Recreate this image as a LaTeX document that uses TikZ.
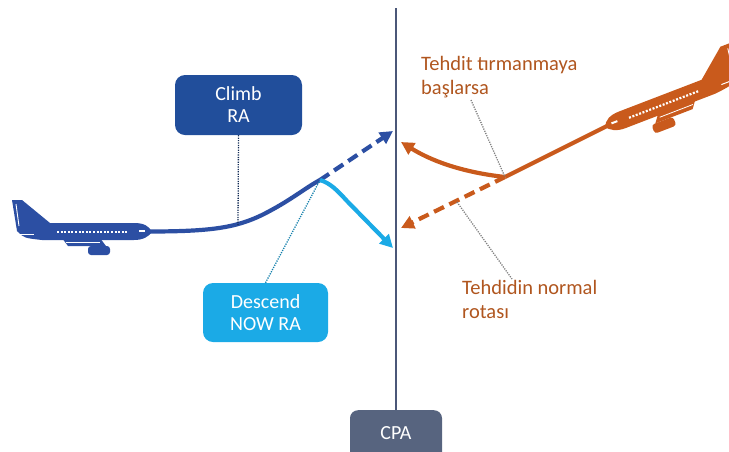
\documentclass[tikz,border=0pt]{standalone}
\usepackage{fontspec}
\setmainfont{Carlito}
\usetikzlibrary{arrows.meta}

\definecolor{jetblue}{HTML}{2C4FA3}
\definecolor{climbblue}{HTML}{214E9B}
\definecolor{skyblue}{HTML}{1BAAE6}
\definecolor{threat}{HTML}{C95A1C}
\definecolor{threattext}{HTML}{B0561F}
\definecolor{cpaline}{HTML}{4B5778}
\definecolor{cpabox}{HTML}{57647F}

\tikzset{
  rabox/.style={rounded corners=10pt, fill=#1, text=white, align=center,
    font=\fontsize{20}{22}\selectfont, inner sep=0pt},
  flight/.style={line width=4.2pt},
  tip/.style={-{Triangle[length=13pt,width=13pt]}},
  dashes/.style={dash pattern=on 11pt off 6pt},
  leader/.style={line width=1.3pt, dash pattern=on 1.2pt off 1.2pt},
  note/.style={text=threattext, align=left, anchor=north west, inner sep=0pt,
    font=\fontsize{20.5}{23.6}\selectfont},
  % airliner silhouette, nose at the origin, pointing to +x
  pics/jet/.style={code={
    \fill[#1] (0,0) .. controls (-3,-6) and (-8,-9) .. (-18,-9) -- (-102,-9)
      -- (-130,-32) -- (-140,-32) -- (-135,-1) .. controls (-128,6) .. (-110,8)
      -- (-18,8) .. controls (-8,8) and (-3,4) .. (0,0) -- cycle;
    \fill[#1] (-90,6) -- (-52,6) -- (-46,14) -- (-84,14) -- cycle;
    \draw[white, line width=0.8pt] (-86,10) -- (-52,10);
    \fill[#1, rounded corners=3pt] (-64,14) rectangle (-42,23);
    \draw[white, line width=2.2pt, dash pattern=on 2pt off 1.6pt] (-95,0) -- (-24,0);
    \draw[white, line width=2pt] (-13,-1) -- (-7,-1);
    \draw[white, line width=1pt] (-136,2) -- (-118,2);
    \draw[white, line width=0.9pt] (-136,-28) -- (-133,-6);
  }}
}

\begin{document}
\begin{tikzpicture}[x=1pt,y=-1pt]
  \clip (0,0) rectangle (729,451);

  % closest point of approach
  \node[rabox=cpabox, anchor=north, minimum width=92pt, minimum height=72pt,
        rounded corners=8pt, text height=13pt, text depth=27pt] (cpa) at (396,410) {CPA};
  \coordinate (cpatop) at (396,8);
  \draw[cpaline, line width=2pt] (cpatop) -- (cpa.north);

  % own aircraft
  \pic at (152,232) {jet=jetblue};
  \coordinate (bnose) at (148,231.5);
  \coordinate (bsplit) at (320,180);
  \coordinate (climbtip) at (393,131);
  \coordinate (desctip) at (393,248);
  \coordinate (cfoot) at (238,225);
  \draw[flight, jetblue] (bnose) .. controls (210,231.5) and (235,228) .. (262,215)
    .. controls (290,201) and (305,188) .. (bsplit);
  \draw[flight, jetblue, dashes, tip] (bsplit) -- (climbtip);
  \draw[flight, skyblue, tip] (bsplit) .. controls (330,183) and (337,190) .. (347,201) -- (desctip);

  % resolution advisories
  \node[rabox=climbblue, minimum width=127pt, minimum height=60pt] (climb) at (238.5,105) {Climb\\RA};
  \node[rabox=skyblue, minimum width=125pt, minimum height=59pt] (desc) at (265.5,312.5) {Descend\\NOW RA};
  \draw[leader, climbblue!55!black] (climb.south) -- (cfoot);
  \draw[leader, skyblue!75!black, shorten >=2pt] (desc.north) -- (bsplit);

  % intruder
  \pic[rotate=21, xscale=-1, scale=1.05] at (605,127) {jet=threat};
  \coordinate (onose) at (609,125);
  \coordinate (osplit) at (505,177);
  \coordinate (otip1) at (401,142);
  \coordinate (otip2) at (401,228);
  \draw[flight, threat] (onose) -- (osplit);
  \draw[flight, threat, tip] (osplit) .. controls (460,172) and (430,160) .. (otip1);
  \draw[flight, threat, dashes, tip] (osplit) -- (otip2);

  % notes on the intruder paths
  \node[note] (climbing) at (421,56) {Tehdit tırmanmaya\\başlarsa};
  \node[note] (normal) at (462,280) {Tehdidin normal\\rotası};
  \coordinate (uleader) at (471,100);
  \coordinate (lleader) at (457,202);
  \coordinate (lnote) at (512,279);
  \draw[leader, gray] (uleader) -- (osplit);
  \draw[leader, gray] (lleader) -- (lnote);
\end{tikzpicture}
\end{document}
